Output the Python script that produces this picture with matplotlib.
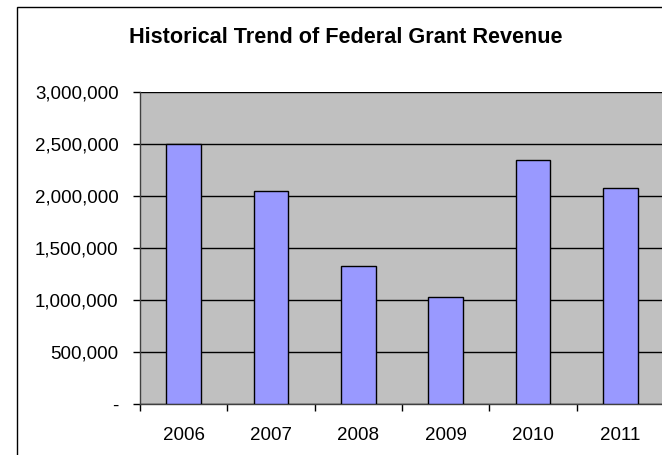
from matplotlib import pyplot as plt
from matplotlib.ticker import FuncFormatter, MultipleLocator, FixedLocator
from matplotlib.patches import Rectangle
import numpy as np

years = ['2006', '2007', '2008', '2009', '2010', '2011']
revenue = [2500000, 2055000, 1327000, 1029000, 2346000, 2080000]

W, H = 662, 455
plt.rcParams['font.family'] = ['Liberation Sans', 'DejaVu Sans']

fig = plt.figure(figsize=(W / 100, H / 100), dpi=100)
fig.patch.set_facecolor('white')

# plot area in pixel terms, right edge runs a bit past the picture
left, right, top, bottom = 140, 664, 92.3, 404.3
ax = fig.add_axes([left / W, 1 - bottom / H, (right - left) / W, (bottom - top) / H])
ax.set_facecolor('#C0C0C0')

x = np.arange(len(years))
ax.bar(x, revenue, width=0.40, color='#9999FF', edgecolor='black',
       linewidth=1, zorder=3)

ax.set_xlim(-0.5, len(years) - 0.5)
ax.set_ylim(0, 3000000)
ax.yaxis.set_major_locator(MultipleLocator(500000))
ax.yaxis.set_major_formatter(FuncFormatter(
    lambda v, p: '-' if v == 0 else f'{v:,.0f}'))
ax.grid(axis='y', color='black', linewidth=1, zorder=1)
ax.set_axisbelow(True)

ax.set_xticks(x)
ax.set_xticklabels(years)
ax.xaxis.set_minor_locator(FixedLocator(np.arange(-0.5, len(years), 1.0)))
ax.tick_params(axis='x', which='major', length=0, pad=16.5, labelsize=13.5)
ax.tick_params(axis='x', which='minor', length=5, width=1, color='black')
ax.tick_params(axis='y', length=5, width=1, color='black', pad=10.5, labelsize=13.5)

for s in ['top', 'right']:
    ax.spines[s].set_visible(False)
for s in ['left', 'bottom']:
    ax.spines[s].set_color('#404040')
    ax.spines[s].set_linewidth(1)

fig.text(346 / W, 1 - 37.5 / H, 'Historical Trend of Federal Grant Revenue',
         ha='center', va='center', fontsize=15.6, fontweight='bold')

# chart frame (right and bottom edges fall outside the picture)
fig.patches.append(Rectangle((17 / W, -0.1), (671 - 17) / W, 1.1 - 7.5 / H,
                             transform=fig.transFigure, fill=False,
                             edgecolor='black', linewidth=1, clip_on=False))

fig.savefig('out.png', dpi=100)
